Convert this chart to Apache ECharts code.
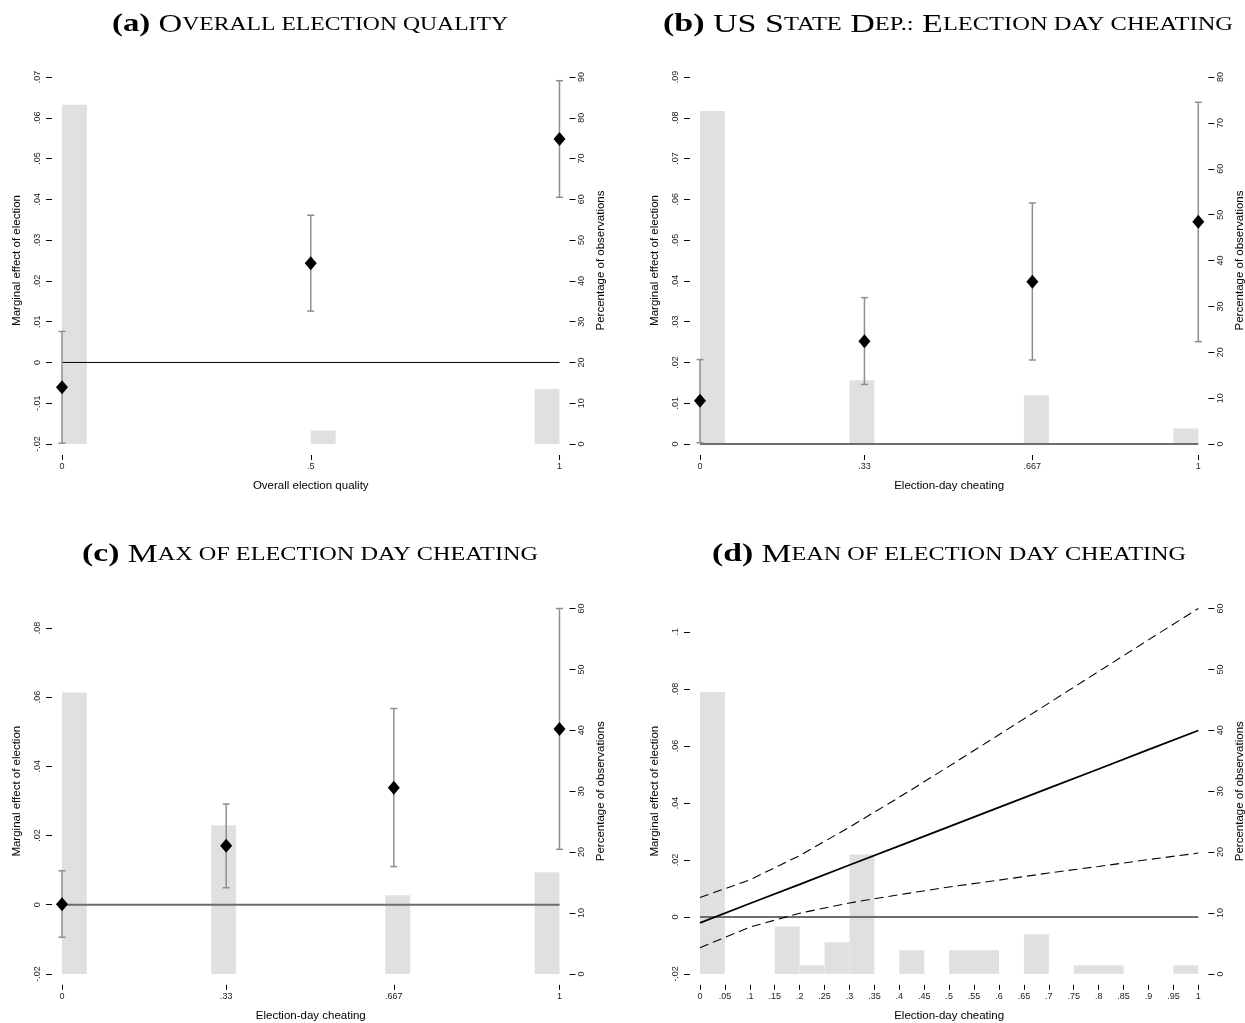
<!DOCTYPE html>
<html><head><meta charset="utf-8">
<script src="https://cdn.jsdelivr.net/npm/echarts@6/dist/echarts.min.js"></script>
<style>html,body{margin:0;padding:0;background:#fff}#c{width:1245px;height:1023px}</style>
</head><body><div id="c"></div>
<script>
// ================= DATA =================
const BIN_WIDTH = 0.05;

// Panel (a) Overall election quality
const aX = [0, 0.5, 1];
const aEst = [-0.0061, 0.0243, 0.0548];
const aLo = [-0.0198, 0.0126, 0.0405];
const aHi = [0.0076, 0.0361, 0.0691];
const aBinStart = [0, 0.5, 0.95];
const aPct = [83.2, 3.3, 13.5];
const aXTicks = [0, 0.5, 1];
const aYTicks = [-0.02, -0.01, 0, 0.01, 0.02, 0.03, 0.04, 0.05, 0.06, 0.07];
const aPctTicks = [0, 10, 20, 30, 40, 50, 60, 70, 80, 90];

// Panel (b) US State Dep.: Election day cheating
const bX = [0, 0.33, 0.667, 1];
const bEst = [0.0106, 0.0252, 0.0398, 0.0545];
const bLo = [0.0003, 0.0146, 0.0206, 0.0251];
const bHi = [0.0207, 0.0359, 0.0591, 0.0838];
const bBinStart = [0, 0.3, 0.65, 0.95];
const bPct = [72.6, 13.9, 10.6, 3.4];
const bXTicks = [0, 0.33, 0.667, 1];
const bYTicks = [0, 0.01, 0.02, 0.03, 0.04, 0.05, 0.06, 0.07, 0.08, 0.09];
const bPctTicks = [0, 10, 20, 30, 40, 50, 60, 70, 80];

// Panel (c) Max of election day cheating
const cX = [0, 0.33, 0.667, 1];
const cEst = [0.0001, 0.0170, 0.0338, 0.0508];
const cLo = [-0.0094, 0.0049, 0.0110, 0.0160];
const cHi = [0.0098, 0.0291, 0.0567, 0.0856];
const cBinStart = [0, 0.3, 0.65, 0.95];
const cPct = [46.2, 24.4, 12.9, 16.7];
const cXTicks = [0, 0.33, 0.667, 1];
const cYTicks = [-0.02, 0, 0.02, 0.04, 0.06, 0.08];
const cPctTicks = [0, 10, 20, 30, 40, 50, 60];

// Panel (d) Mean of election day cheating
const dX = [0, 0.1, 0.2, 0.3, 0.4, 0.5, 0.6, 0.7, 0.8, 0.9, 1];
const dEst = [-0.0021, 0.0047, 0.0114, 0.0182, 0.0249, 0.0317, 0.0384, 0.0452, 0.0519, 0.0587, 0.0654];
const dUpper = [0.0068, 0.0130, 0.0215, 0.0315, 0.0420, 0.0529, 0.0639, 0.0750, 0.0861, 0.0972, 0.1082];
const dLower = [-0.0108, -0.0036, 0.0013, 0.0049, 0.0078, 0.0105, 0.0129, 0.0154, 0.0177, 0.0201, 0.0224];
const dBinStart = [0, 0.15, 0.2, 0.25, 0.3, 0.4, 0.5, 0.55, 0.65, 0.75, 0.8, 0.95];
const dPct = [46.3, 7.8, 1.4, 5.2, 19.6, 3.9, 3.9, 3.9, 6.5, 1.4, 1.4, 1.4];
const dXTicks = [0, 0.05, 0.1, 0.15, 0.2, 0.25, 0.3, 0.35, 0.4, 0.45, 0.5, 0.55, 0.6, 0.65, 0.7, 0.75, 0.8, 0.85, 0.9, 0.95, 1];
const dYTicks = [-0.02, 0, 0.02, 0.04, 0.06, 0.08, 0.1];
const dPctTicks = [0, 10, 20, 30, 40, 50, 60];

const titleA = '{p|(a)}{C| O}{s|VERALL ELECTION QUALITY}';
const titleB = '{p|(b)}{C| US S}{s|TATE}{C| D}{s|EP.:}{C| E}{s|LECTION DAY CHEATING}';
const titleC = '{p|(c)}{C| M}{s|AX OF ELECTION DAY CHEATING}';
const titleD = '{p|(d)}{C| M}{s|EAN OF ELECTION DAY CHEATING}';
const xNameA = 'Overall election quality';
const xNameB = 'Election-day cheating';
const yNameL = 'Marginal effect of election';
const yNameR = 'Percentage of observations';

// ================= LAYOUT / STYLE =================
const SANS = 'Liberation Sans';
const SERIF = 'Liberation Serif';
const fmt = v => String(v).replace(/^(-?)0\./, '$1.');

const grids = [
  {left: 62, top: 77, width: 497.5, height: 367},
  {left: 700, top: 77, width: 498.3, height: 367},
  {left: 62, top: 608.5, width: 497.5, height: 365.4},
  {left: 700, top: 608.5, width: 498.3, height: 365.4}
];

const panels = [
  {xt: aXTicks, yt: aYTicks, pt: aPctTicks, ymin: -0.02, ymax: 0.07, pmax: 90, xname: xNameA,
   bins: aBinStart, pct: aPct, pts: {x: aX, est: aEst, lo: aLo, hi: aHi}, zeroColor: '#000', zeroWidth: 1},
  {xt: bXTicks, yt: bYTicks, pt: bPctTicks, ymin: 0, ymax: 0.09, pmax: 80, xname: xNameB,
   bins: bBinStart, pct: bPct, pts: {x: bX, est: bEst, lo: bLo, hi: bHi}, zeroColor: '#6e6e6e', zeroWidth: 2},
  {xt: cXTicks, yt: cYTicks, pt: cPctTicks, ymin: -0.02, ymax: 0.0856, pmax: 60, xname: xNameB,
   bins: cBinStart, pct: cPct, pts: {x: cX, est: cEst, lo: cLo, hi: cHi}, zeroColor: '#6e6e6e', zeroWidth: 2},
  {xt: dXTicks, yt: dYTicks, pt: dPctTicks, ymin: -0.02, ymax: 0.1082, pmax: 60, xname: xNameB,
   bins: dBinStart, pct: dPct, lines: true, zeroColor: '#6e6e6e', zeroWidth: 2}
];

const tickLabel = {fontSize: 9, color: '#222', fontFamily: SANS};
const nameStyle = {fontSize: 11.5, color: '#000', fontFamily: SANS};

const xAxes = [], yAxes = [], series = [];

function barRender(params, api) {
  const x0 = api.value(0), h = api.value(1);
  const p1 = api.coord([x0, h]);
  const p2 = api.coord([x0 + BIN_WIDTH, 0]);
  return {type: 'rect', shape: {x: p1[0], y: p1[1], width: p2[0] - p1[0], height: p2[1] - p1[1]},
          style: {fill: '#e0e0e0'}};
}
function errRender(params, api) {
  const x = api.value(0), lo = api.value(1), hi = api.value(2);
  const p1 = api.coord([x, hi]), p2 = api.coord([x, lo]);
  const hw = 3.5;
  const st = {stroke: '#8e8e8e', lineWidth: 1.5};
  return {type: 'group', children: [
    {type: 'line', shape: {x1: p1[0], y1: p1[1], x2: p2[0], y2: p2[1]}, style: st},
    {type: 'line', shape: {x1: p1[0] - hw, y1: p1[1], x2: p1[0] + hw, y2: p1[1]}, style: st},
    {type: 'line', shape: {x1: p2[0] - hw, y1: p2[1], x2: p2[0] + hw, y2: p2[1]}, style: st}
  ]};
}

panels.forEach((p, i) => {
  xAxes.push({
    gridIndex: i, type: 'value', min: 0, max: 1, position: 'bottom', offset: 11,
    axisLine: {show: false, onZero: false},
    axisTick: {show: true, length: 5, customValues: p.xt, lineStyle: {color: '#000', width: 1}},
    axisLabel: Object.assign({show: true, customValues: p.xt, formatter: fmt, margin: 7}, tickLabel),
    splitLine: {show: false},
    name: p.xname, nameLocation: 'middle', nameGap: 25, nameMoveOverlap: false, nameTextStyle: nameStyle
  });
  yAxes.push({
    gridIndex: i, type: 'value', position: 'left', min: p.ymin, max: p.ymax, offset: 10,
    axisLine: {show: false, onZero: false},
    axisTick: {show: true, length: 6, customValues: p.yt, lineStyle: {color: '#000', width: 1}},
    axisLabel: Object.assign({show: true, customValues: p.yt, formatter: fmt, rotate: 90, margin: 10}, tickLabel),
    splitLine: {show: false},
    name: yNameL, nameLocation: 'middle', nameRotate: 90, nameGap: 29, nameMoveOverlap: false, nameTextStyle: nameStyle
  });
  yAxes.push({
    gridIndex: i, type: 'value', position: 'right', min: 0, max: p.pmax, offset: 10,
    axisLine: {show: false, onZero: false},
    axisTick: {show: true, length: 6, customValues: p.pt, lineStyle: {color: '#000', width: 1}},
    axisLabel: Object.assign({show: true, customValues: p.pt, formatter: fmt, rotate: 90, margin: 7.5}, tickLabel),
    splitLine: {show: false},
    name: yNameR, nameLocation: 'middle', nameRotate: 90, nameGap: 25.5, nameMoveOverlap: false, nameTextStyle: nameStyle
  });
  const yl = 2 * i, yr = 2 * i + 1;
  series.push({
    type: 'custom', xAxisIndex: i, yAxisIndex: yr, z: 1, silent: true,
    renderItem: barRender, data: p.bins.map((s, k) => [s, p.pct[k]])
  });
  series.push({
    type: 'line', xAxisIndex: i, yAxisIndex: yl, z: 2, symbol: 'none', silent: true,
    lineStyle: {color: p.zeroColor, width: p.zeroWidth}, data: [[0, 0], [1, 0]]
  });
  if (p.pts) {
    series.push({
      type: 'custom', xAxisIndex: i, yAxisIndex: yl, z: 3, silent: true,
      renderItem: errRender, data: p.pts.x.map((x, k) => [x, p.pts.lo[k], p.pts.hi[k]])
    });
    series.push({
      type: 'scatter', xAxisIndex: i, yAxisIndex: yl, z: 4, silent: true,
      symbol: 'diamond', symbolSize: [12, 14], itemStyle: {color: '#000', opacity: 1},
      data: p.pts.x.map((x, k) => [x, p.pts.est[k]])
    });
  }
  if (p.lines) {
    series.push({
      type: 'line', xAxisIndex: i, yAxisIndex: yl, z: 3, symbol: 'none', silent: true,
      lineStyle: {color: '#000', width: 1.8}, data: dX.map((x, k) => [x, dEst[k]])
    });
    [dUpper, dLower].forEach(arr => series.push({
      type: 'line', xAxisIndex: i, yAxisIndex: yl, z: 3, symbol: 'none', silent: true,
      lineStyle: {color: '#000', width: 1.1, type: [9, 5]}, data: dX.map((x, k) => [x, arr[k]])
    }));
  }
});

// ----- titles (small caps emulated with rich text) -----
const rich = {
  p: {fontFamily: SERIF, fontWeight: 'bold', fontSize: 25, color: '#000'},
  C: {fontFamily: SERIF, fontSize: 25, color: '#000'},
  s: {fontFamily: SERIF, fontSize: 18, color: '#000'}
};
const mctx = document.createElement('canvas').getContext('2d');
function natWidth(t) {
  let w = 0; const re = /\{(\w+)\|([^}]*)\}/g; let m;
  while ((m = re.exec(t))) {
    const r = rich[m[1]];
    mctx.font = (r.fontWeight ? r.fontWeight + ' ' : '') + r.fontSize + 'px "' + r.fontFamily + '"';
    w += mctx.measureText(m[2]).width;
  }
  return w;
}
const titleSpecs = [
  {t: titleA, cx: 310, cy: 25, w: 396},
  {t: titleB, cx: 948, cy: 25, w: 570},
  {t: titleC, cx: 310, cy: 555, w: 456},
  {t: titleD, cx: 949, cy: 555, w: 474}
];
const graphics = titleSpecs.map(s => ({
  type: 'text', x: s.cx, y: s.cy, scaleX: s.w / natWidth(s.t), silent: true,
  style: {text: s.t, rich: rich, align: 'center', verticalAlign: 'middle',
          textAlign: 'center', textVerticalAlign: 'middle', fill: '#000'}
}));

const chart = echarts.init(document.getElementById('c'), null, {renderer: 'canvas'});
chart.setOption({
  animation: false,
  backgroundColor: '#fff',
  grid: grids.map(g => Object.assign({containLabel: false, outerBoundsMode: 'none'}, g)),
  xAxis: xAxes,
  yAxis: yAxes,
  series: series,
  graphic: graphics
});
</script></body></html>
